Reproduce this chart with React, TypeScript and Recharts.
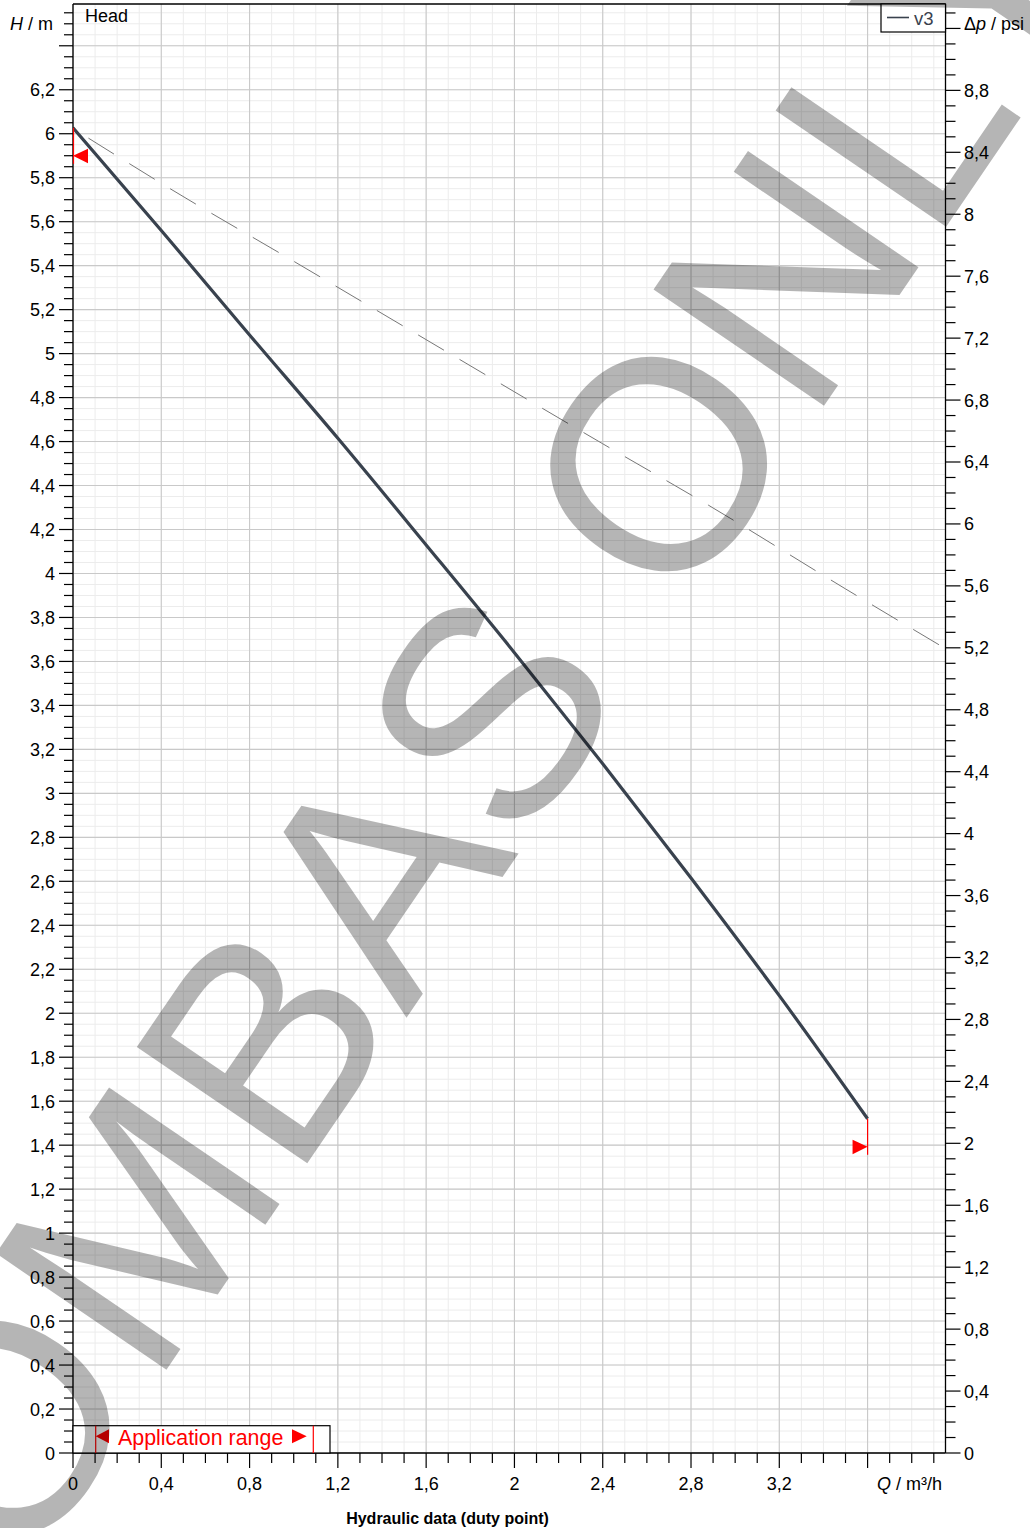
import React from 'react';
import {
  ComposedChart,
  Line,
  XAxis,
  YAxis,
  CartesianGrid,
  ReferenceLine,
  ReferenceDot,
} from 'recharts';

// ---------- data ----------
// v3 pump curve (Q in m³/h, H in m)
const v3Flow = [0, 0.4, 0.8, 1.2, 1.6, 2.0, 2.4, 2.8, 3.2, 3.6];
const v3Head = [6.027, 5.56, 5.085, 4.615, 4.13, 3.64, 3.135, 2.615, 2.08, 1.52];

// dashed (max) curve
const maxFlow = [0.07, 0.44, 1.0, 1.69, 2.4, 2.88, 3.5, 3.95];
const maxHead = [5.98, 5.75, 5.42, 5.01, 4.59, 4.31, 3.93, 3.66];

// axis ranges
const Q_MAX = 3.953;
const H_MAX = 6.59;
const PSI_PER_M = 1.42;

// tick labels (major ticks)
const qMajorLabels = ['0', '0,4', '0,8', '1,2', '1,6', '2', '2,4', '2,8', '3,2', ''];
const hMajorLabels = [
  '0', '0,2', '0,4', '0,6', '0,8', '1', '1,2', '1,4', '1,6', '1,8', '2', '2,2', '2,4', '2,6', '2,8', '3',
  '3,2', '3,4', '3,6', '3,8', '4', '4,2', '4,4', '4,6', '4,8', '5', '5,2', '5,4', '5,6', '5,8', '6', '6,2', '',
];
const psiMajorLabels = [
  '0', '0,4', '0,8', '1,2', '1,6', '2', '2,4', '2,8', '3,2', '3,6', '4', '4,4', '4,8', '5,2', '5,6', '6',
  '6,4', '6,8', '7,2', '7,6', '8', '8,4', '8,8', '',
];

// ---------- helpers ----------
const steps = (count: number, step: number) =>
  Array.from({ length: count }, (_, i) => Math.round(i * step * 1000) / 1000);

const qMinor = steps(40, 0.1); // 0 .. 3.9
const qMajor = steps(10, 0.4); // 0 .. 3.6
const hMinor = steps(132, 0.05); // 0 .. 6.55
const hMajor = steps(33, 0.2); // 0 .. 6.4
const psiMinor = steps(94, 0.1); // 0 .. 9.3

const v3Data = v3Flow.map((q, i) => ({ q, h: v3Head[i] }));
const maxData = maxFlow.map((q, i) => ({ q, h: maxHead[i] }));

const FONT = '"Liberation Sans", Arial, Helvetica, sans-serif';
const W = 1030;
const HGT = 1528;

const majorIndex = (v: number, step: number) => {
  const r = v / step;
  return Math.abs(r - Math.round(r)) < 1e-6 ? Math.round(r) : -1;
};

const QTick = (props: any) => {
  const { x, y, payload } = props;
  const idx = majorIndex(payload.value, 0.4);
  const major = idx >= 0;
  const label = major ? qMajorLabels[idx] || '' : '';
  return (
    <g>
      <line x1={x} x2={x} y1={y} y2={y + (major ? 15 : 10)} stroke="#000" strokeWidth={1.2} />
      {label && (
        <text x={x} y={y + 37} textAnchor="middle" fontFamily={FONT} fontSize={18} fill="#000">
          {label}
        </text>
      )}
    </g>
  );
};

const HTick = (props: any) => {
  const { x, y, payload } = props;
  const idx = majorIndex(payload.value, 0.2);
  const major = idx >= 0;
  const label = major ? hMajorLabels[idx] || '' : '';
  return (
    <g>
      <line x1={x - (major ? 14 : 9)} x2={x} y1={y} y2={y} stroke="#000" strokeWidth={1.2} />
      {label && (
        <text x={x - 18} y={y + 6.5} textAnchor="end" fontFamily={FONT} fontSize={18} fill="#000">
          {label}
        </text>
      )}
    </g>
  );
};

const PsiTick = (props: any) => {
  const { x, y, payload } = props;
  const idx = majorIndex(payload.value, 0.4);
  const major = idx >= 0;
  const label = major ? psiMajorLabels[idx] || '' : '';
  return (
    <g>
      <line x1={x} x2={x + (major ? 15 : 10)} y1={y} y2={y} stroke="#000" strokeWidth={1.2} />
      {label && (
        <text x={x + 18.5} y={y + 6.5} textAnchor="start" fontFamily={FONT} fontSize={18} fill="#000">
          {label}
        </text>
      )}
    </g>
  );
};

const StartMark = (p: any) => {
  const { cx, cy } = p;
  return (
    <g>
      <line x1={cx + 0.5} x2={cx + 0.5} y1={cy} y2={cy + 36} stroke="#ff0000" strokeWidth={1.2} />
      <polygon points={`${cx},${cy + 28} ${cx + 15},${cy + 21} ${cx + 15},${cy + 35.5}`} fill="#ff0000" />
    </g>
  );
};

const EndMark = (p: any) => {
  const { cx, cy } = p;
  return (
    <g>
      <line x1={cx} x2={cx} y1={cy} y2={cy + 36} stroke="#ff0000" strokeWidth={1.2} />
      <polygon points={`${cx},${cy + 28} ${cx - 15},${cy + 21} ${cx - 15},${cy + 35.5}`} fill="#ff0000" />
    </g>
  );
};

export default function App() {
  const last = v3Data.length - 1;
  return (
    <div style={{ position: 'absolute', left: 0, top: 0, width: W, height: HGT, background: '#fff' }}>
      <ComposedChart width={W} height={HGT} margin={{ top: 4, right: 0, bottom: 0, left: 0 }}>
        <CartesianGrid
          yAxisId="h"
          verticalValues={qMinor}
          horizontalValues={hMinor}
          stroke="#ececec"
          strokeWidth={1}
        />
        <CartesianGrid
          yAxisId="h"
          verticalValues={qMajor}
          horizontalValues={hMajor}
          stroke="#c9c9c9"
          strokeWidth={1.1}
        />
        <XAxis
          dataKey="q"
          type="number"
          domain={[0, Q_MAX]}
          ticks={qMinor}
          interval={0}
          height={75}
          tickSize={0}
          tickMargin={0}
          tickLine={false}
          axisLine={{ stroke: '#000', strokeWidth: 1.3 }}
          tick={<QTick />}
          allowDataOverflow
        />
        <YAxis
          yAxisId="h"
          type="number"
          domain={[0, H_MAX]}
          ticks={hMinor}
          interval={0}
          width={73}
          tickSize={0}
          tickMargin={0}
          tickLine={false}
          axisLine={{ stroke: '#000', strokeWidth: 1.3 }}
          tick={<HTick />}
          allowDataOverflow
        />
        <YAxis
          yAxisId="psi"
          orientation="right"
          type="number"
          domain={[0, H_MAX * PSI_PER_M]}
          ticks={psiMinor}
          interval={0}
          width={84.5}
          tickSize={0}
          tickMargin={0}
          tickLine={false}
          axisLine={{ stroke: '#000', strokeWidth: 1.3 }}
          tick={<PsiTick />}
          allowDataOverflow
        />
        <ReferenceLine yAxisId="h" y={H_MAX} stroke="#000" strokeWidth={1.3} />
        <Line
          yAxisId="h"
          data={maxData}
          dataKey="h"
          type="monotone"
          stroke="#777"
          strokeWidth={1}
          strokeDasharray="30 18"
          dot={false}
          activeDot={false}
          isAnimationActive={false}
        />
        <Line
          yAxisId="h"
          data={v3Data}
          dataKey="h"
          type="monotone"
          stroke="#39424e"
          strokeWidth={3.2}
          dot={false}
          activeDot={false}
          isAnimationActive={false}
        />
        <ReferenceDot yAxisId="h" x={v3Data[0].q} y={v3Data[0].h} shape={<StartMark />} />
        <ReferenceDot yAxisId="h" x={v3Data[last].q} y={v3Data[last].h} shape={<EndMark />} />
      </ComposedChart>

      <svg
        width={W}
        height={HGT}
        style={{ position: 'absolute', left: 0, top: 0, pointerEvents: 'none' }}
      >
        <g fontFamily={FONT} fill="#000">
          <text x={85} y={22} fontSize={18}>Head</text>
          <text x={10} y={29.5} fontSize={18}>
            <tspan fontStyle="italic">H</tspan> / m
          </text>
          <text x={964} y={29.5} fontSize={18}>
            Δ<tspan fontStyle="italic">p</tspan> / psi
          </text>
          <text x={877} y={1489.5} fontSize={18}>
            <tspan fontStyle="italic">Q</tspan> / m³/h
          </text>
          <text x={447.5} y={1524} fontSize={16} fontWeight="bold" textAnchor="middle">
            Hydraulic data (duty point)
          </text>
        </g>

        {/* legend */}
        <rect x={881} y={4} width={64.5} height={28} fill="#fff" stroke="#000" strokeWidth={1.2} />
        <line x1={887} x2={909} y1={17.5} y2={17.5} stroke="#39424e" strokeWidth={1.6} />
        <text x={914} y={24.5} fontFamily={FONT} fontSize={18.5} fill="#39424e">v3</text>

        {/* application range */}
        <rect x={73} y={1425.7} width={257} height={27.3} fill="#fff" stroke="#000" strokeWidth={1.2} />
        <line x1={95.7} x2={95.7} y1={1425.7} y2={1453} stroke="#ff0000" strokeWidth={1.2} />
        <line x1={313.3} x2={313.3} y1={1425.7} y2={1453} stroke="#ff0000" strokeWidth={1.2} />
        <polygon points="95.7,1436.3 109,1429.3 109,1443.3" fill="#ff0000" />
        <polygon points="306.7,1436.3 292,1429.3 292,1443.3" fill="#ff0000" />
        <text x={118} y={1444.5} fontFamily={FONT} fontSize={21.4} fill="#ff0000">
          Application range
        </text>

        {/* watermark */}
        <g transform="rotate(-55.7 152.6 1390)" fill="#000" fillOpacity={0.29} fontFamily={FONT} fontSize={300}>
          <text x={152.6} y={1390} textAnchor="end">O</text>
          <text x={152.6} y={1390}>MBAS ONLY</text>
        </g>
      </svg>
    </div>
  );
}
